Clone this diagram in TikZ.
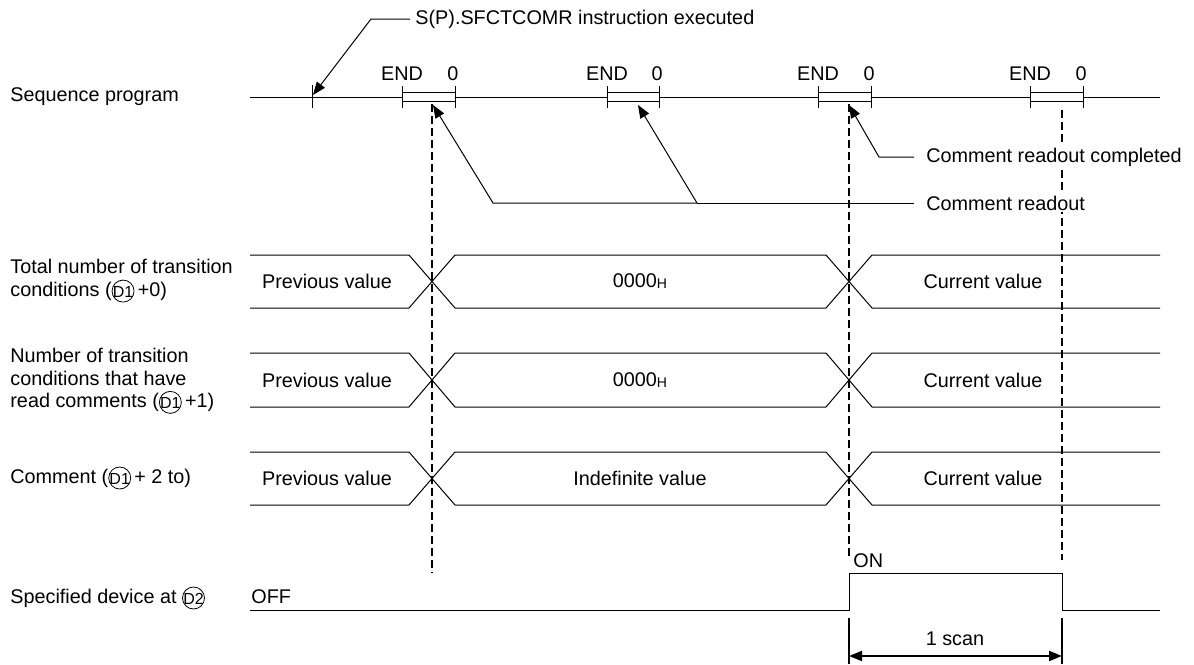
\documentclass[tikz,border=0pt]{standalone}
\usepackage{fontspec}
\setmainfont{Liberation Sans}
\usetikzlibrary{arrows.meta}
\newcommand{\cD}[1]{\tikz[baseline=-2.7pt,x=1pt,y=1pt]{\draw[line width=0.4pt] (0pt,0pt) circle[radius=5.5pt]; \node[anchor=center,inner sep=0pt,font=\fontsize{8}{8}\selectfont] at (0pt,-0.3pt) {D#1};}}
\newcommand{\hexH}{\raisebox{-0.6pt}{\fontsize{7}{8}\selectfont H}}
\begin{document}
\begin{tikzpicture}[x=0.5pt,y=-0.5pt,
  txt/.style={inner sep=0pt,font=\fontsize{9.9}{11.3}\selectfont},
  lbl/.style={txt,anchor=west,align=left},
  ln/.style={line width=0.5pt},
  dsh/.style={line width=1pt,dash pattern=on 4pt off 2pt},
  arr/.style={line width=0.5pt,-{Triangle[length=6.5pt,width=5pt]}},
  darr/.style={line width=1pt,{Triangle[length=6.5pt,width=5pt]}-{Triangle[length=6.5pt,width=5pt]}}]
\useasboundingbox (0,0) rectangle (1194,664);

% left labels
\node[lbl] (seq) at (10,97) {Sequence program};
\node[lbl] (tot) at (10,281) {Total number of transition\\conditions (\cD{1}\,+0)};
\node[lbl] (num) at (10,381) {Number of transition\\conditions that have\\read comments (\cD{1}\,+1)};
\node[lbl] (com) at (10,478) {Comment (\cD{1}\,+ 2 to)};
\node[lbl] (spec) at (10,598) {Specified device at \cD{2}};

% sequence program line
\draw[ln] (250,97) -- (402,97) (455,97) -- (607,97) (659,97) -- (818,97) (871,97) -- (1030,97) (1083,97) -- (1160,97);
\draw[ln] (312,85) -- (312,108);
\foreach \a/\b in {402/455,607/659,818/871,1030/1083}{
  \draw[ln] (\a,92) rectangle (\b,101);
  \draw[ln] (\a,86) -- (\a,108) (\b,86) -- (\b,108);
  \node[txt] at (\a,74) {END};
  \node[txt] at (\b-2,74) {0};
}

% dashed lines
\draw[dsh] (432,104) -- (432,573);
\draw[dsh] (849,104) -- (849,556);
\draw[dsh] (1062,110) -- (1062,560);

% annotations
\node[lbl] (sfc) at (415,19) {S(P).SFCTCOMR instruction executed};
\coordinate (sfcA) at (410,19);
\coordinate (sfcB) at (371,19);
\coordinate (t0) at (313,95);
\draw[arr] (sfcA) -- (sfcB) -- (t0);

\node[lbl,fill=white,inner sep=1pt] (crc) at (924,157) {Comment readout completed};
\coordinate (crcA) at (914,157);
\coordinate (crcB) at (879,157);
\coordinate (t3) at (849,105);
\draw[arr] (crcA) -- (crcB) -- (t3);

\node[lbl,fill=white,inner sep=1pt] (cr) at (924,203) {Comment readout};
\coordinate (crA) at (914,203);
\coordinate (crB) at (697,203);
\coordinate (crC) at (493,203);
\coordinate (t1) at (433,105);
\coordinate (t2) at (638,105);
\draw[ln] (crA) -- (crB);
\draw[arr] (crB) -- (crC) -- (t1);
\draw[arr] (crB) -- (t2);

% buses
\foreach \T/\B in {255/308,353/407,452/505}{
  \draw[ln] (250,\T) -- (409,\T) -- (455,\B) -- (826,\B) -- (872,\T) -- (1160,\T);
  \draw[ln] (250,\B) -- (409,\B) -- (455,\T) -- (826,\T) -- (872,\B) -- (1160,\B);
}
\node[txt] at (327,281) {Previous value};
\node[txt] at (640,281) {0000\hexH};
\node[txt] at (983,281) {Current value};
\node[txt] at (327,380) {Previous value};
\node[txt] at (640,380) {0000\hexH};
\node[txt] at (983,380) {Current value};
\node[txt] at (327,478) {Previous value};
\node[txt] at (640,478) {Indefinite value};
\node[txt] at (983,478) {Current value};

% pulse
\node[lbl] (off) at (251,597) {OFF};
\node[lbl] (on) at (853,561) {ON};
\draw[ln] (250,610) -- (849,610) -- (849,573) -- (1062,573) -- (1062,610) -- (1160,610);

% 1 scan
\coordinate (sL) at (849,656);
\coordinate (sR) at (1062,656);
\draw[line width=1pt] (849,618) -- (849,664) (1062,618) -- (1062,664);
\draw[darr] (sL) -- (sR);
\node[txt] (scan) at (955,639) {1 scan};
\end{tikzpicture}
\end{document}
